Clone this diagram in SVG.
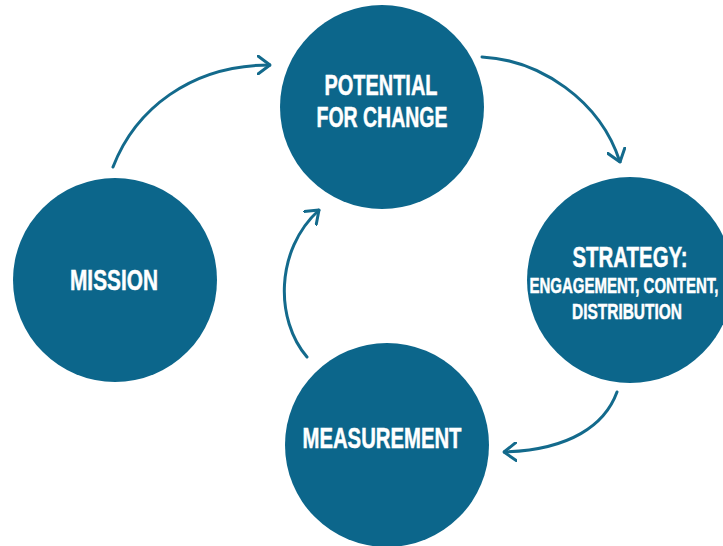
<svg xmlns="http://www.w3.org/2000/svg" width="723" height="546" viewBox="0 0 723 546">
<defs>
<style>
.node{fill:#0c668b}
.lbl{fill:#ffffff;font-family:"Liberation Sans",Arial,sans-serif;font-weight:bold;text-anchor:middle;stroke:#ffffff;stroke-width:0.5}
.big{font-size:29px}
.small{font-size:22px}
.conn{fill:none;stroke:#136a8c;stroke-width:3;stroke-linecap:round}
</style>
<marker id="arr" viewBox="0 0 14 20" refX="13" refY="10" markerWidth="14" markerHeight="20" markerUnits="userSpaceOnUse" orient="auto">
<path d="M1,1 L13,10 L1,19" fill="none" stroke="#136a8c" stroke-width="3" stroke-linecap="round" stroke-linejoin="round"/>
</marker>
</defs>
<rect width="723" height="546" fill="#ffffff"/>
<g id="connectors">
<path class="conn" d="M113,167 C135,110 190,65 270,65" marker-end="url(#arr)"/>
<path class="conn" d="M482,57 C540,60 600,100 620,162" marker-end="url(#arr)"/>
<path class="conn" d="M617,392 C605,425 570,450 504,452" marker-end="url(#arr)"/>
<path class="conn" d="M307,357 C275,320 275,250 319,210" marker-end="url(#arr)"/>
</g>
<g id="potential">
<circle class="node" cx="382" cy="107" r="102"/>
<text class="lbl big" x="381" y="95" textLength="113" lengthAdjust="spacingAndGlyphs">POTENTIAL</text>
<text class="lbl big" x="382" y="127" textLength="131" lengthAdjust="spacingAndGlyphs">FOR CHANGE</text>
</g>
<g id="mission">
<circle class="node" cx="115" cy="280" r="102"/>
<text class="lbl big" x="114" y="290" textLength="88" lengthAdjust="spacingAndGlyphs">MISSION</text>
</g>
<g id="strategy">
<circle class="node" cx="630" cy="280" r="103"/>
<text class="lbl big" x="630" y="267" textLength="115" lengthAdjust="spacingAndGlyphs">STRATEGY:</text>
<text class="lbl small" x="624" y="293" textLength="189" lengthAdjust="spacingAndGlyphs">ENGAGEMENT, CONTENT,</text>
<text class="lbl small" x="627" y="319" textLength="110" lengthAdjust="spacingAndGlyphs">DISTRIBUTION</text>
</g>
<g id="measurement">
<circle class="node" cx="387" cy="445" r="102"/>
<text class="lbl big" x="382" y="448" textLength="159" lengthAdjust="spacingAndGlyphs">MEASUREMENT</text>
</g>
</svg>
